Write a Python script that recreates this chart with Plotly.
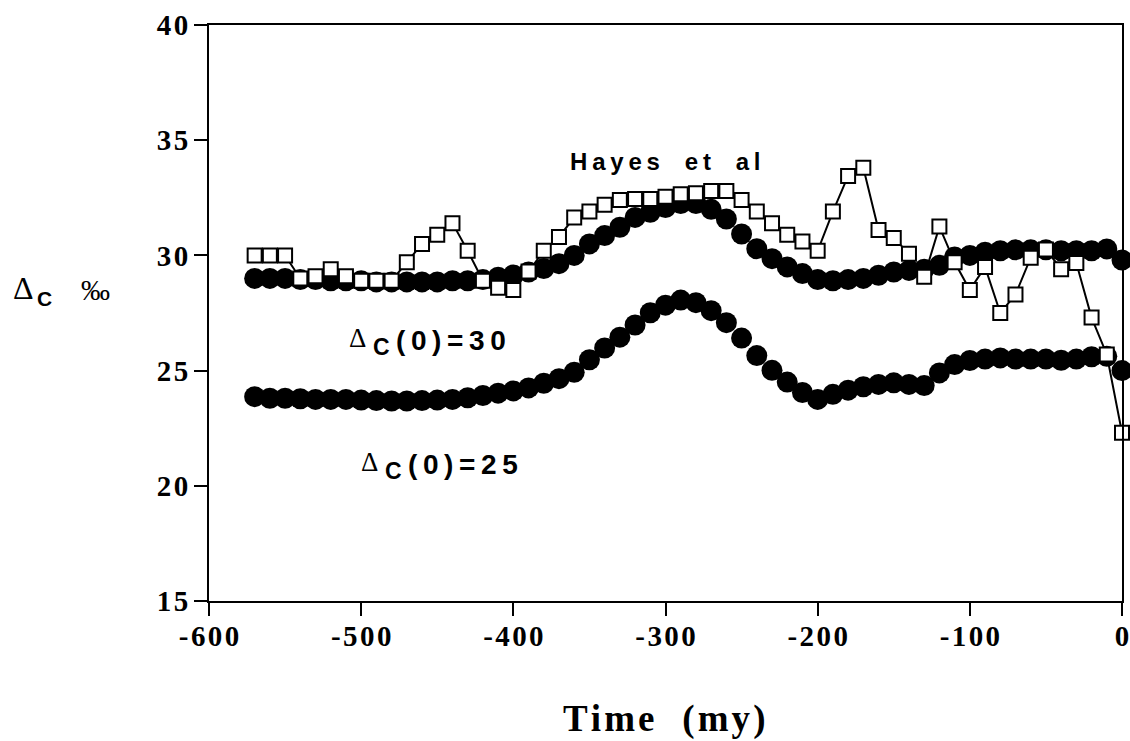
import plotly.graph_objects as go

# ---- data ----
time_my = [-570, -560, -550, -540, -530, -520, -510, -500, -490, -480,
           -470, -460, -450, -440, -430, -420, -410, -400, -390, -380,
           -370, -360, -350, -340, -330, -320, -310, -300, -290, -280,
           -270, -260, -250, -240, -230, -220, -210, -200, -190, -180,
           -170, -160, -150, -140, -130, -120, -110, -100, -90, -80,
           -70, -60, -50, -40, -30, -20, -10, 0]

delta_c30 = [29.0, 29.0, 29.0, 28.95, 28.95, 28.9, 28.9, 28.9, 28.85, 28.85,
             28.85, 28.85, 28.85, 28.9, 28.9, 28.95, 29.05, 29.15, 29.28, 29.43,
             29.64, 30.0, 30.5, 30.86, 31.22, 31.65, 31.87, 32.08, 32.25, 32.25,
             32.0, 31.58, 30.93, 30.29, 29.86, 29.5, 29.21, 28.95, 28.9, 28.95,
             29.0, 29.14, 29.28, 29.35, 29.4, 29.57, 29.93, 30.0, 30.14, 30.2,
             30.24, 30.24, 30.24, 30.2, 30.2, 30.2, 30.28, 29.8]

delta_c25 = [23.87, 23.8, 23.8, 23.78, 23.75, 23.75, 23.75, 23.72, 23.7, 23.68,
             23.68, 23.7, 23.72, 23.75, 23.82, 23.92, 24.02, 24.12, 24.25, 24.45,
             24.65, 24.93, 25.47, 25.98, 26.45, 26.98, 27.51, 27.84, 28.06, 27.95,
             27.6, 27.08, 26.41, 25.65, 25.01, 24.5, 24.05, 23.75, 23.97, 24.15,
             24.3, 24.4, 24.47, 24.4, 24.35, 24.9, 25.26, 25.44, 25.5, 25.55,
             25.5, 25.5, 25.5, 25.45, 25.5, 25.6, 25.62, 25.0]

hayes = [30.0, 30.0, 30.0, 29.0, 29.1, 29.4, 29.1, 28.9, 28.9, 28.9,
         29.7, 30.5, 30.9, 31.4, 30.2, 28.9, 28.6, 28.5, 29.3, 30.2,
         30.8, 31.65, 31.9, 32.2, 32.4, 32.45, 32.45, 32.55, 32.65, 32.7,
         32.8, 32.8, 32.4, 31.9, 31.4, 30.9, 30.6, 30.2, 31.9, 33.45,
         33.8, 31.1, 30.76, 30.07, 29.07, 31.25, 29.7, 28.5, 29.5, 27.5,
         28.3, 29.9, 30.26, 29.4, 29.67, 27.3, 25.7, 22.3]

x_ticks = [-600, -500, -400, -300, -200, -100, 0]
x_tick_labels = ["-600", "-500", "-400", "-300", "-200", "-100", "0"]
y_ticks = [15, 20, 25, 30, 35, 40]
y_tick_labels = ["15", "20", "25", "30", "35", "40"]

SERIF = "Liberation Serif"
SANS = "Liberation Sans"
HAIR = "\u200a"
THIN = "\u2009"


def spread(t, sep):
    return sep.join(list(t))


fig = go.Figure()

fig.add_trace(go.Scatter(
    x=time_my, y=delta_c30, mode="markers",
    marker=dict(symbol="circle", size=21, color="black", line=dict(width=0)),
    showlegend=False, cliponaxis=False))

fig.add_trace(go.Scatter(
    x=time_my, y=delta_c25, mode="markers",
    marker=dict(symbol="circle", size=21, color="black", line=dict(width=0)),
    showlegend=False, cliponaxis=False))

fig.add_trace(go.Scatter(
    x=time_my, y=hayes, mode="lines+markers",
    line=dict(color="black", width=2),
    marker=dict(symbol="square", size=14, color="white",
                line=dict(color="black", width=2)),
    showlegend=False, cliponaxis=False))

axis_common = dict(
    showgrid=False, zeroline=False, showline=True, linecolor="black",
    linewidth=2, mirror=True, ticks="outside", ticklen=13, tickwidth=2,
    tickcolor="black", automargin=False,
    tickfont=dict(family=SERIF, size=29, color="black", weight="bold"),
)

fig.update_xaxes(range=[-600, 0], tickvals=x_ticks,
                 ticktext=[spread(t, HAIR) for t in x_tick_labels],
                 ticklabelstandoff=-5,
                 **axis_common)
fig.update_yaxes(range=[15, 40], tickvals=y_ticks,
                 ticktext=[spread(t, HAIR) for t in y_tick_labels],
                 **axis_common)

# page pixel -> data / paper helpers (plot area: x 209..1122, y 25..601 on page)
def dx(px):
    return -600 + (px - 209) * 600.0 / 913.0


def dy(py):
    return 40 - (py - 25) * 25.0 / 576.0


def px_(px):
    return (px - 209) / 913.0


def py_(py):
    return (601 - py) / 576.0


def ann(text, x, y, family, size, weight="normal", xref="x", yref="y"):
    return dict(text=text, x=x, y=y, xref=xref, yref=yref, showarrow=False,
                xanchor="center", yanchor="middle",
                font=dict(family=family, size=size, color="black", weight=weight))


annotations = [
    # Hayes et al
    ann(spread("Hayes", THIN) + "  " + THIN + " " + spread("et", THIN) + "  " + THIN + " " + spread("al", THIN),
        dx(665), dy(161), SANS, 24, "bold"),
    # Δc(0)=30
    ann("\u0394", dx(357), dy(338), SERIF, 27),
    ann("C", dx(381), dy(347), SANS, 23, "bold"),
    ann(spread("(0)=30", THIN), dx(451), dy(340), SANS, 28, "bold"),
    # Δc(0)=25
    ann("\u0394", dx(369), dy(462), SERIF, 27),
    ann("C", dx(393), dy(471), SANS, 23, "bold"),
    ann(spread("(0)=25", THIN), dx(463), dy(464), SANS, 28, "bold"),
    # y-axis title Δc ‰
    ann("\u0394", px_(23), py_(288), SERIF, 32, xref="paper", yref="paper"),
    ann("C", px_(44), py_(298), SANS, 21, "bold", xref="paper", yref="paper"),
    ann("\u2030", px_(95), py_(290), SERIF, 29, xref="paper", yref="paper"),
    # x-axis title
    ann(spread("Time", HAIR) + "   " + spread("(my)", HAIR),
        px_(664), py_(719), SERIF, 37, "bold", xref="paper", yref="paper"),
]

fig.update_layout(
    width=1130, height=741,
    margin=dict(l=209, r=8, t=25, b=140),
    paper_bgcolor="white", plot_bgcolor="white",
    annotations=annotations,
)

fig.write_html(
    "out.html",
    config={"displayModeBar": False},
    post_script="document.body.style.margin='0';document.body.style.overflow='hidden';",
)
